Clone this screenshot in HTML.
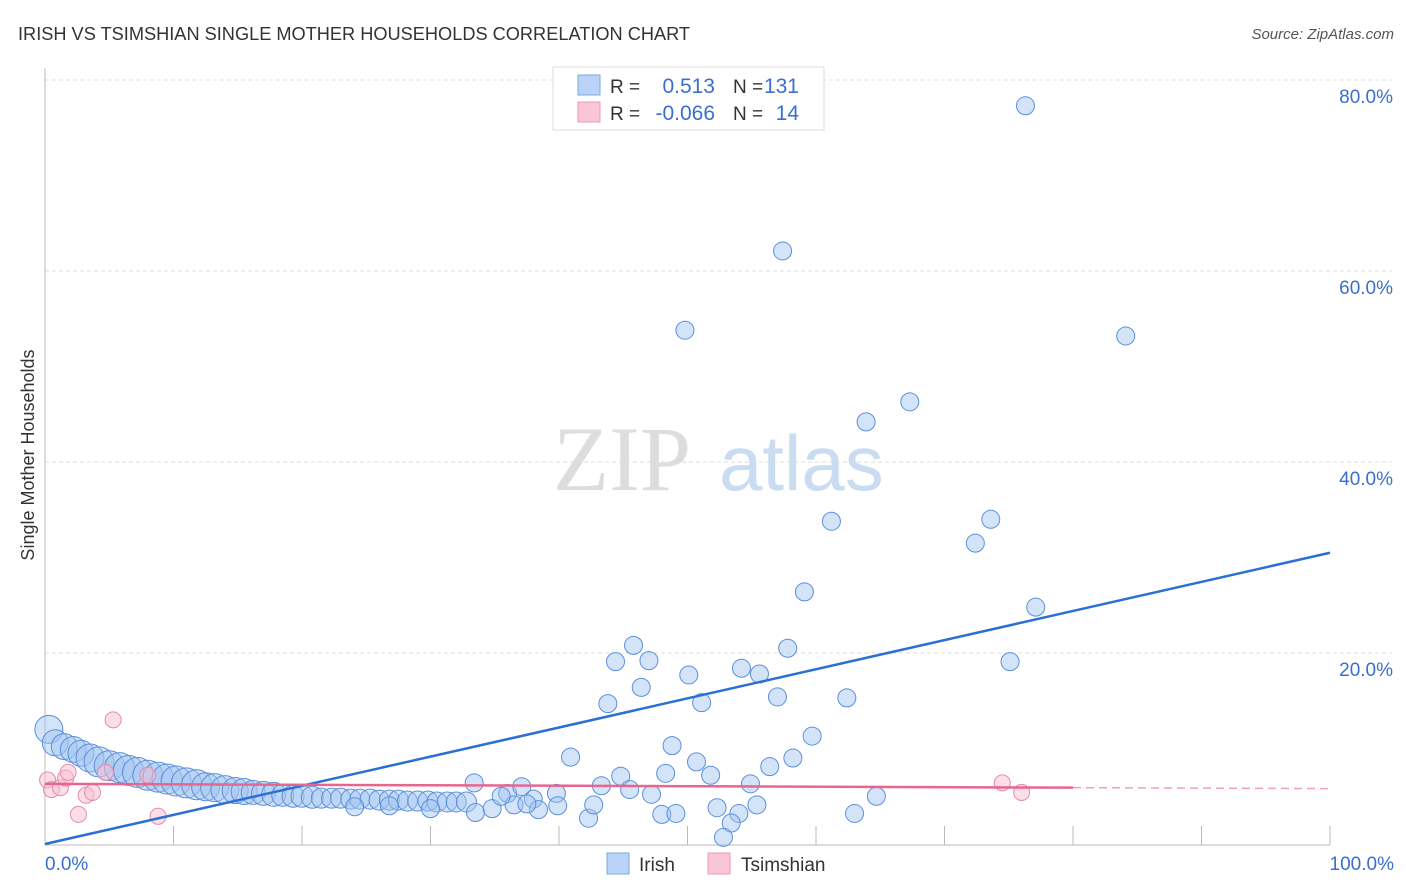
<!DOCTYPE html>
<html><head><meta charset="utf-8"><style>
body{margin:0;background:#fff;font-family:"Liberation Sans",sans-serif;}
svg{display:block}
</style></head><body>
<svg id="chart" width="1406" height="892" xmlns="http://www.w3.org/2000/svg">
<text x="18" y="40" font-size="18.2" fill="#333">IRISH VS TSIMSHIAN SINGLE MOTHER HOUSEHOLDS CORRELATION CHART</text>
<text x="1394" y="39" font-size="15" fill="#555" font-style="italic" text-anchor="end">Source: ZipAtlas.com</text>
<text transform="translate(34,455) rotate(-90)" font-size="18" fill="#333" text-anchor="middle">Single Mother Households</text>
<g>
<text x="553" y="490" font-size="92" font-family="Liberation Serif,serif" fill="#ddd">ZIP</text>
<text x="719" y="490" font-size="78" fill="#c9dcf2">atlas</text>
</g>
<g id="grid"></g><g id="axes"></g><g id="pts"></g><g id="trend"></g>
<g>
<rect x="553" y="67" width="271" height="63" fill="#fff" stroke="#ddd"/>
<rect x="578" y="75" width="22" height="20" fill="#b9d4f6" stroke="#7aa9e6"/>
<rect x="578" y="102" width="22" height="20" fill="#f9c6d6" stroke="#eb9ab3"/>
<text x="610" y="93" font-size="19" fill="#333">R =</text>
<text x="715" y="93" font-size="21" fill="#3a6fd0" text-anchor="end">0.513</text>
<text x="733" y="93" font-size="19" fill="#333">N =</text>
<text x="799" y="93" font-size="21" fill="#3a6fd0" text-anchor="end">131</text>
<text x="610" y="120" font-size="19" fill="#333">R =</text>
<text x="715" y="120" font-size="21" fill="#3a6fd0" text-anchor="end">-0.066</text>
<text x="733" y="120" font-size="19" fill="#333">N =</text>
<text x="799" y="120" font-size="21" fill="#3a6fd0" text-anchor="end">14</text>
</g>
<g>
<rect x="607" y="853" width="22" height="21" fill="#b9d4f6" stroke="#7aa9e6"/>
<text x="639" y="871" font-size="19" fill="#333">Irish</text>
<rect x="708" y="853" width="22" height="21" fill="#f9c6d6" stroke="#eb9ab3"/>
<text x="741" y="871" font-size="19" fill="#333">Tsimshian</text>
</g>
</svg>
<script>
const yTicks=[20,40,60,80];
const xTickLabels=["0.0%","100.0%"];
const irishX=[0.3,0.8,1.5,2.2,2.8,3.5,4.2,5.0,5.8,6.5,7.2,8.0,8.8,9.5,10.2,11.0,11.8,12.5,13.2,14.0,14.8,15.5,16.2,17.0,17.8,18.5,19.3,20.0,20.8,21.5,22.3,23.0,23.8,24.5,25.3,26.0,26.8,27.5,28.2,29.0,29.8,30.5,31.3,32.0,32.8,24.1,26.8,30.0,33.5,34.8,36.0,36.5,38.0,38.4,35.5,37.5,
76.3,57.4,49.8,84.1,67.3,63.9,61.2,73.6,72.4,59.1,77.1,45.8,57.8,44.4,47.0,75.1,54.2,50.1,55.6,46.4,57.0,62.4,43.8,51.1,59.7,48.8,40.9,58.2,50.7,56.4,48.3,51.8,44.8,33.4,37.1,43.3,54.9,45.5,64.7,47.2,52.3,55.4,54.0,63.0,48.0,49.1,53.4,52.8,42.3,42.7,39.8,39.9];
const irishY=[12.0,10.6,10.2,9.9,9.5,9.0,8.6,8.2,8.0,7.7,7.5,7.2,7.0,6.8,6.6,6.4,6.2,6.0,5.9,5.7,5.6,5.5,5.4,5.3,5.2,5.1,5.0,5.0,4.9,4.8,4.8,4.8,4.7,4.7,4.7,4.6,4.6,4.6,4.5,4.5,4.5,4.4,4.4,4.4,4.4,3.9,4.0,3.7,3.3,3.7,5.3,4.1,4.7,3.6,5.0,4.2,
77.3,62.1,53.8,53.2,46.3,44.2,33.8,34.0,31.5,26.4,24.8,20.8,20.5,19.1,19.2,19.1,18.4,17.7,17.8,16.4,15.4,15.3,14.7,14.8,11.3,10.3,9.1,9.0,8.6,8.1,7.4,7.2,7.1,6.4,6.0,6.1,6.3,5.7,5.0,5.2,3.8,4.1,3.2,3.2,3.1,3.2,2.2,0.7,2.7,4.1,5.3,4.0];
const irishR=[14,13,13,13,13,14,15,15,15,15,15,15,15,15,15,15,15,14,14,14,13,13,12,12,12,11,11,11,11,10,10,10,10,10,10,10,10,10,10,10,10,10,10,10,10,9,9,9,9,9,9,9,9,9,9,9];
const tsimX=[0.2,0.5,1.2,1.6,1.8,2.6,3.2,3.7,5.3,8.8,8.0,4.7,74.5,76.0];
const tsimY=[6.7,5.7,5.9,6.9,7.5,3.1,5.1,5.4,13.0,2.9,7.2,7.5,6.4,5.4];
const irishTrend=[0,30.5];
const tsimTrend=[6.3,5.8];
const X0=45,X1=1330,Y0=844,PPY=9.55;
const sx=v=>X0+(X1-X0)*v/100, sy=v=>Y0-v*PPY;
const NS="http://www.w3.org/2000/svg";
function mk(t,a,p){const e=document.createElementNS(NS,t);for(const k in a)e.setAttribute(k,a[k]);p.appendChild(e);return e;}
const grid=document.getElementById('grid'),axes=document.getElementById('axes'),pts=document.getElementById('pts'),trend=document.getElementById('trend');
yTicks.forEach(v=>{
 const l=mk('line',{x1:X0,x2:1392,y1:sy(v),y2:sy(v),stroke:'#ddd','stroke-dasharray':'4 3'},grid);
 
 
 const t=mk('text',{x:1393,y:sy(v)+23,'font-size':19,fill:'#3a6fd0','text-anchor':'end'},grid);
 t.textContent=v.toFixed(1)+'%';
 
 
});
const yl=mk('line',{x1:X0,x2:X0,y1:68,y2:Y0+1,stroke:'#bbb'},axes);


const xl=mk('line',{x1:X0,x2:X1,y1:Y0+1,y2:Y0+1,stroke:'#bbb'},axes);


for(let i=1;i<=10;i++){const t=mk('line',{x1:sx(i*10),x2:sx(i*10),y1:Y0-18,y2:Y0+1,stroke:'#bbb'},axes);
 
 }
[[0,'start',X0],[1,'end',1394]].forEach(([i,a,x])=>{const t=mk('text',{x:x,y:870,'font-size':19,fill:'#3a6fd0','text-anchor':a},axes);t.textContent=xTickLabels[i];
 
 });
irishX.forEach((x,i)=>{const c=mk('circle',{cx:sx(x),cy:sy(irishY[i]),r:irishR[i]||9,fill:'rgba(160,196,240,0.45)',stroke:'#5b8fdc','stroke-width':1},pts);
 
 });
tsimX.forEach((x,i)=>{const c=mk('circle',{cx:sx(x),cy:sy(tsimY[i]),r:8,fill:'rgba(248,190,210,0.5)',stroke:'#e88aa8','stroke-width':1},pts);
 
 });
const bl=mk('line',{x1:sx(0),y1:sy(irishTrend[0]),x2:sx(100),y2:sy(irishTrend[1]),stroke:'#2a6fd6','stroke-width':2.5},trend);


const tAt=x=>tsimTrend[0]+(tsimTrend[1]-tsimTrend[0])*x/100;
const pl=mk('line',{x1:sx(0),y1:sy(tAt(0)),x2:sx(80),y2:sy(tAt(80)),stroke:'#e8668e','stroke-width':2.5},trend);


const pd=mk('line',{x1:sx(80),y1:sy(tAt(80)),x2:sx(100),y2:sy(tAt(100)),stroke:'#f0a0b8','stroke-width':1.5,'stroke-dasharray':'8 5'},trend);


</script>
</body></html>
